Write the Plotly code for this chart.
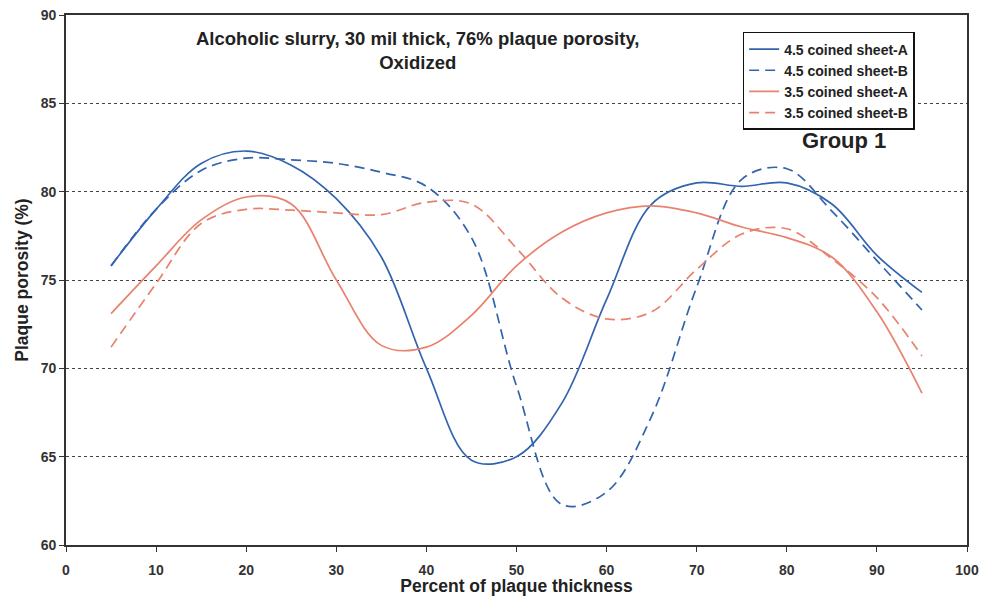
import plotly.graph_objects as go

x_pct = [5, 10, 15, 20, 25, 30, 35, 40, 45, 50, 55, 60, 65, 70, 75, 80, 85, 90, 95]

sheet45_A = [75.8, 79.0, 81.6, 82.3, 81.5, 79.6, 76.3, 70.0, 64.8, 65.0, 68.0, 73.9, 79.3, 80.5, 80.3, 80.5, 79.3, 76.4, 74.3]
sheet45_B = [75.8, 79.0, 81.2, 81.9, 81.8, 81.6, 81.1, 80.3, 77.4, 69.0, 62.3, 63.0, 67.3, 74.6, 80.7, 81.3, 78.9, 76.1, 73.3]
sheet35_A = [73.1, 75.8, 78.4, 79.7, 79.3, 75.0, 71.3, 71.2, 73.0, 75.8, 77.7, 78.8, 79.2, 78.8, 78.0, 77.4, 76.3, 73.2, 68.6]
sheet35_B = [71.2, 74.8, 78.2, 79.0, 78.95, 78.8, 78.7, 79.4, 79.3, 76.8, 74.0, 72.8, 73.2, 75.6, 77.6, 77.9, 76.2, 74.0, 70.7]

series_names = ["4.5 coined sheet-A", "4.5 coined sheet-B", "3.5 coined sheet-A", "3.5 coined sheet-B"]

x_ticks = [0, 10, 20, 30, 40, 50, 60, 70, 80, 90, 100]
y_ticks = [60, 65, 70, 75, 80, 85, 90]

BLUE = "#3264ae"
RED = "#e8826e"
FONT = "Liberation Sans, Arial, sans-serif"
TXT = "#222"

fig = go.Figure()
styles = [(sheet45_A, BLUE, "solid"), (sheet45_B, BLUE, "10px,6px"),
          (sheet35_A, RED, "solid"), (sheet35_B, RED, "10px,6px")]
for name, (vals, col, dash) in zip(series_names, styles):
    fig.add_trace(go.Scatter(
        x=x_pct, y=vals, name=name, mode="lines",
        line=dict(color=col, width=1.7, dash=dash, shape="spline", smoothing=1.0),
    ))

fig.update_layout(
    width=985, height=596,
    margin=dict(l=66, r=18, t=15, b=51),
    paper_bgcolor="white", plot_bgcolor="white",
    font=dict(family=FONT, color=TXT, size=14),
    showlegend=True,
    legend=dict(
        x=0.751, y=0.968, xanchor="left", yanchor="top",
        bgcolor="white", bordercolor="#111", borderwidth=1.5,
        font=dict(family=FONT, size=14, color=TXT, weight="bold"),
        tracegroupgap=0, itemwidth=30,
    ),
    xaxis=dict(
        range=[0, 100], tickvals=x_ticks, ticks="outside", ticklen=5, tickcolor="#333",
        showline=True, linecolor="#333", linewidth=1.6, mirror=True,
        showgrid=False, zeroline=False, automargin=False, ticklabelstandoff=6,
        tickfont=dict(family=FONT, size=14, color="#333", weight="bold"),
        title=dict(text="Percent of plaque thickness", standoff=0,
                   font=dict(family=FONT, size=17.5, color=TXT, weight="bold")),
    ),
    yaxis=dict(
        range=[60, 90], tickvals=y_ticks, ticks="outside", ticklen=5, tickcolor="#333",
        showline=True, linecolor="#333", linewidth=1.6, mirror=True,
        showgrid=True, gridcolor="#444", griddash="dot", gridwidth=1,
        zeroline=False, automargin=False,
        tickfont=dict(family=FONT, size=14, color="#333", weight="bold"),
        title=dict(text="Plaque porosity (%)", standoff=8,
                   font=dict(family=FONT, size=17.5, color=TXT, weight="bold")),
    ),
    annotations=[
        dict(text="Alcoholic slurry, 30 mil thick, 76% plaque porosity,<br>Oxidized",
             xref="paper", yref="paper", x=0.39, y=0.979, xanchor="center", yanchor="top",
             showarrow=False, align="center",
             font=dict(family=FONT, size=18.5, color=TXT, weight="bold")),
        dict(text="Group 1", xref="paper", yref="paper", x=0.863, y=0.763,
             xanchor="center", yanchor="middle", showarrow=False,
             font=dict(family=FONT, size=22, color=TXT, weight="bold")),
    ],
)

fig.write_html("out.html")
